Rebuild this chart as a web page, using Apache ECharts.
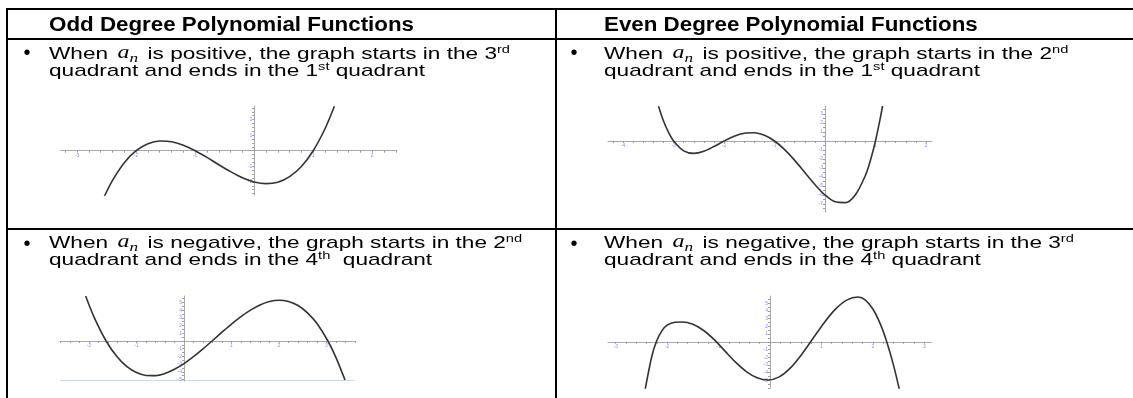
<!DOCTYPE html>
<html><head><meta charset="utf-8">
<script src="https://cdn.jsdelivr.net/npm/echarts@6/dist/echarts.min.js"></script>
<style>html,body{margin:0;padding:0;background:#fff}#c{width:1133px;height:398px}</style>
</head><body><div id="c"></div><script>
// ---- data (graph units) ----
const g1X = [-2.54,-2.4,-2.2,-2.0,-1.8,-1.6,-1.4,-1.2,-1.0,-0.8,-0.6,-0.4,-0.2,0,0.2,0.4,0.6,0.8,1.0,1.2,1.36];
const g1Y = [-2.94,-1.90,-0.77,0,0.45,0.62,0.58,0.35,0,-0.43,-0.90,-1.34,-1.73,-2.0,-2.11,-2.02,-1.66,-1.01,0,1.41,2.85];

const g2X = [-3.3,-3.2,-3.1,-3.0,-2.8,-2.6,-2.4,-2.2,-2.0,-1.8,-1.6,-1.4,-1.2,-1.0,-0.8,-0.6,-0.4,-0.2,0,0.2,0.4,0.6,0.8,0.9,1.0,1.1,1.14];
const g2Y = [3.86,2.22,0.95,0,-1.09,-1.38,-1.14,-0.61,0,0.54,0.87,0.92,0.63,0,-0.95,-2.15,-3.49,-4.84,-6.0,-6.76,-6.85,-5.99,-3.83,-2.15,0,2.67,3.89];

const g3X = [-2.07,-1.9,-1.64,-1.4,-1.2,-1.0,-0.8,-0.6,-0.4,-0.2,0,0.2,0.4,0.59,0.8,1.0,1.2,1.4,1.6,1.8,2.0,2.2,2.4,2.6,2.8,3.03,3.2,3.39];
const g3Y = [5.83,3.19,0,-2.12,-3.33,-4.10,-4.47,-4.49,-4.21,-3.67,-2.93,-2.03,-1.02,0,1.14,2.20,3.17,4.01,4.68,5.12,5.29,5.13,4.61,3.66,2.26,0,-2.15,-5.07];

const g4X = [-2.43,-2.3,-2.21,-2.1,-2.0,-1.85,-1.71,-1.50,-1.29,-1.08,-0.875,-0.67,-0.46,-0.25,-0.04,0.179,0.398,0.616,0.835,1.054,1.273,1.491,1.71,1.85,2.0,2.15,2.27,2.4,2.52];
const g4Y = [-6.27,-1.94,0,1.45,2.16,2.53,2.56,2.27,1.46,0.24,-1.21,-2.65,-3.87,-4.68,-4.97,-4.56,-3.39,-1.64,0.42,2.48,4.23,5.40,5.81,5.45,4.25,2.23,0,-3.00,-6.33];

// tick labels
const g1XLabels = [-3,-2,-1,1,2];
const g1YLabels = [-2,-1,1,2];
const g2XLabels = [-4,-3,-2,-1,1,2];
const g2YLabels = [-7,-6,-5,-4,-3,-2,-1,1,2,3];
const g3XLabels = [-2,-1,1,2,3];
const g3YLabels = [-5,-4,-3,-2,-1,1,2,3,4,5];
const g4XLabels = [-3,-2,-1,1,2,3];
const g4YLabels = [-5,-4,-3,-2,-1,1,2,3,4,5];

// text
const headers = ['Odd Degree Polynomial Functions', 'Even Degree Polynomial Functions'];
const cells = [
  [['When', 'is positive, the graph starts in the 3', 'rd'], ['quadrant and ends in the 1', 'st', ' quadrant']],
  [['When', 'is positive, the graph starts in the 2', 'nd'], ['quadrant and ends in the 1', 'st', ' quadrant']],
  [['When', 'is negative, the graph starts in the 2', 'nd'], ['quadrant and ends in the 4', 'th', '  quadrant']],
  [['When', 'is negative, the graph starts in the 3', 'rd'], ['quadrant and ends in the 4', 'th', ' quadrant']]
];

// ---- layout ----
const SANS = '"Liberation Sans", Arial, sans-serif';
const SERIF = '"Liberation Serif", serif';
const ctx = document.createElement('canvas').getContext('2d');
function tw(style, weight, size, fam, t) { ctx.font = style + ' ' + weight + ' ' + size + 'px ' + fam; return ctx.measureText(t).width; }
const HS = 20, BS = 17;
const SXH = 365 / tw('normal', 'bold', HS, SANS, headers[0]);

function seg(x, base, t, size, fam, weight, style, dy, sx) {
  return { type: 'text', x: x, y: base + (dy || 0) - 0.3465 * size, scaleX: sx, silent: true,
    style: { text: t, fill: '#000', fontSize: size, fontFamily: fam, fontWeight: weight, fontStyle: style,
      align: 'left', verticalAlign: 'middle', textAlign: 'left', textVerticalAlign: 'middle' } };
}
function runLine(x0, base, parts, sx, out) {
  let x = x0;
  parts.forEach(p => {
    x += (p.pad || 0) * sx;
    if (out && p.t) out.push(seg(x, base, p.t, p.size, p.fam, p.weight || 'normal', p.style || 'normal', p.dy, sx));
    x += (p.t ? tw(p.style || 'normal', p.weight || 'normal', p.size, p.fam, p.t) : 0) * sx;
  });
  return x - x0;
}
let GAP = 0;
const line1 = c => [
  { t: c[0][0] + ' ', size: BS, fam: SANS },
  { t: 'a', size: 18, fam: SERIF, style: 'italic', pad: GAP },
  { t: 'n', size: 13, fam: SERIF, style: 'italic', dy: 3 },
  { t: ' ' + c[0][1], size: BS, fam: SANS, pad: GAP },
  { t: c[0][2], size: 11, fam: SANS, dy: -6 }
];
const line2 = c => [
  { t: c[1][0], size: BS, fam: SANS },
  { t: c[1][1], size: 11, fam: SANS, dy: -6 },
  { t: c[1][2], size: BS, fam: SANS }
];
const SXB = 376 / runLine(0, 0, line2(cells[0]), 1, null);
GAP = Math.max(0, (461 / SXB - runLine(0, 0, line1(cells[0]), 1, null)) / 2);

const graphic = [];
// borders
[[6, 8, 1127, 2], [6, 38, 1127, 2], [6, 228, 1127, 2], [6, 8, 2, 390], [555, 8, 2, 390]].forEach(r =>
  graphic.push({ type: 'rect', silent: true, shape: { x: r[0], y: r[1], width: r[2], height: r[3] }, style: { fill: '#000' } }));
// faint line under graph 3
graphic.push({ type: 'rect', silent: true, shape: { x: 60, y: 380, width: 295, height: 1 }, style: { fill: '#cdd9ee' } });
// headers
runLine(49, 32.3, [{ t: headers[0], size: HS, fam: SANS, weight: 'bold' }], SXH, graphic);
runLine(604, 32.3, [{ t: headers[1], size: HS, fam: SANS, weight: 'bold' }], SXH, graphic);
// cells
const cellPos = [[49, 60], [604, 60], [49, 249], [604, 249]];
const bulletPos = [[27, 53.3], [574, 53.3], [27, 244.3], [574, 244.3]];
cells.forEach((c, i) => {
  const [x0, b0] = cellPos[i];
  graphic.push({ type: 'text', x: bulletPos[i][0], y: bulletPos[i][1], silent: true,
    style: { text: '\u2022', fontSize: 20, fontFamily: SANS, fill: '#000', align: 'center', verticalAlign: 'middle', textAlign: 'center', textVerticalAlign: 'middle' } });
  runLine(x0, b0, line1(c), SXB, graphic);
  runLine(x0, b0 + 17, line2(c), SXB, graphic);
});

function steps(a, b, d) { const r = []; for (let v = Math.ceil(a / d) * d; v <= b + 1e-9; v += d) r.push(Math.round(v * 1000) / 1000); return r; }

const grids = [
  { left: 60, top: 106, width: 337, height: 89, x: [-3.29, 2.42], y: [-2.84, 2.87], xs: 0.2, ys: 0.25, xl: g1XLabels, yl: g1YLabels, X: g1X, Y: g1Y },
  { left: 608, top: 106, width: 324, height: 106, x: [-4.30, 2.12], y: [-7.89, 3.89], xs: 0.2, ys: 0.5, xl: g2XLabels, yl: g2YLabels, X: g2X, Y: g2Y },
  { left: 60, top: 296, width: 295, height: 85, x: [-2.61, 3.6], y: [-5.19, 5.84], xs: 0.2, ys: 0.5, xl: g3XLabels, yl: g3YLabels, X: g3X, Y: g3Y },
  { left: 608, top: 296, width: 324, height: 92, x: [-3.15, 3.15], y: [-6.0, 5.94], xs: 0.2, ys: 0.5, xl: g4XLabels, yl: g4YLabels, X: g4X, Y: g4Y }
];
const axisCommon = (ticks, labels) => ({
  type: 'value', splitLine: { show: false },
  axisLine: { show: true, onZero: false, lineStyle: { color: '#a9a9a9', width: 1 } },
  axisTick: { show: true, length: 2, customValues: ticks, lineStyle: { color: '#9a9a9a', width: 1 } },
  axisLabel: { show: true, customValues: labels, fontSize: 5, color: '#8a8aff', margin: 2, fontFamily: SANS }
});
const option = {
  animation: false,
  grid: grids.map(g => ({ left: g.left, top: g.top, width: g.width, height: g.height, outerBoundsMode: 'none', containLabel: false })),
  xAxis: grids.map((g, i) => Object.assign(axisCommon(steps(g.x[0], g.x[1], g.xs), g.xl), {
    gridIndex: i, min: g.x[0], max: g.x[1], position: 'bottom',
    offset: -g.height * (0 - g.y[0]) / (g.y[1] - g.y[0]) })),
  yAxis: grids.map((g, i) => Object.assign(axisCommon(steps(g.y[0], g.y[1], g.ys), g.yl), {
    gridIndex: i, min: g.y[0], max: g.y[1], position: 'left',
    offset: -g.width * (0 - g.x[0]) / (g.x[1] - g.x[0]) })),
  series: grids.map((g, i) => ({
    type: 'line', xAxisIndex: i, yAxisIndex: i, smooth: 0.3, showSymbol: false, silent: true,
    lineStyle: { color: '#333', width: 1.6 },
    data: g.X.map((x, k) => [x, g.Y[k]])
  })),
  graphic: graphic
};
const chart = echarts.init(document.getElementById('c'), null, { renderer: 'canvas' });
chart.setOption(option);
</script></body></html>
